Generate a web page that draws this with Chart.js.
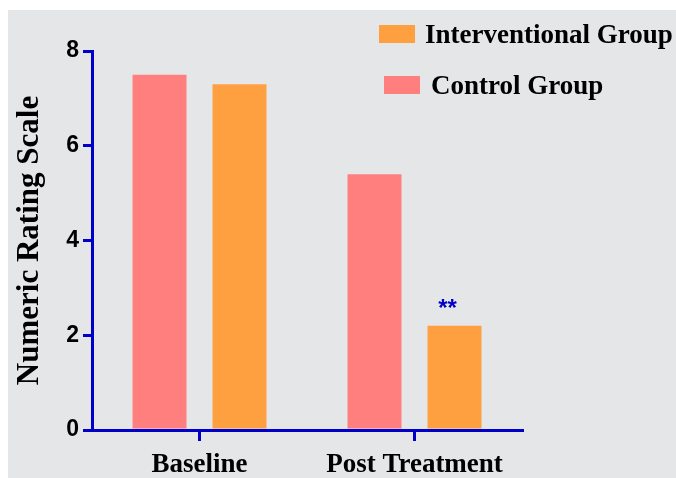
<!DOCTYPE html>
<html>
<head>
<meta charset="utf-8">
<script src="https://cdn.jsdelivr.net/npm/chart.js@4.4.1/dist/chart.umd.min.js"></script>
<style>
  html, body { margin: 0; padding: 0; background: #ffffff; overflow: hidden; }
  #c { display: block; }
</style>
</head>
<body>
<canvas id="c" width="676" height="478"></canvas>
<script>
// ---- data ----
const categories = ["Baseline", "Post Treatment"];
const seriesNames = ["Control Group", "Interventional Group"];
const controlValues = [7.5, 5.4];
const interventionalValues = [7.3, 2.2];
const yTicks = [0, 2, 4, 6, 8];
const significance = ["", "**"];   // marks above interventional bars

const PINK = "rgb(255,127,127)";
const ORANGE = "rgb(255,160,64)";
const BLUE = "#0000c8";
const GRAY = "rgb(229,230,232)";

const bgPlugin = {
  id: "bg",
  beforeDraw(chart) {
    const ctx = chart.ctx;
    ctx.save();
    ctx.fillStyle = "#ffffff";
    ctx.fillRect(0, 0, chart.width, chart.height);
    ctx.fillStyle = GRAY;
    ctx.fillRect(8, 10, chart.width - 8, chart.height - 10);
    ctx.restore();
  }
};

const annotPlugin = {
  id: "annot",
  afterDatasetsDraw(chart) {
    const ctx = chart.ctx;
    const meta = chart.getDatasetMeta(1);
    ctx.save();
    ctx.fillStyle = BLUE;
    ctx.font = "bold 24px 'Liberation Sans', Arial, sans-serif";
    ctx.textAlign = "center";
    ctx.textBaseline = "alphabetic";
    meta.data.forEach((bar, i) => {
      if (significance[i]) ctx.fillText(significance[i], bar.x - 7, bar.y - 10);
    });
    ctx.restore();
  }
};

const legendPlugin = {
  id: "customLegend",
  afterDraw(chart) {
    const ctx = chart.ctx;
    const items = [
      { ds: 1, sx: 379, sy: 25, tx: 425, ty: 43 },
      { ds: 0, sx: 384, sy: 76, tx: 431, ty: 94 }
    ];
    ctx.save();
    ctx.font = "bold 27px 'Liberation Serif', 'Times New Roman', serif";
    ctx.textAlign = "left";
    ctx.textBaseline = "alphabetic";
    items.forEach(it => {
      const ds = chart.data.datasets[it.ds];
      ctx.fillStyle = ds.backgroundColor;
      ctx.fillRect(it.sx, it.sy, 36, 18);
      ctx.fillStyle = "#000000";
      ctx.fillText(ds.label, it.tx, it.ty);
    });
    ctx.restore();
  }
};

new Chart(document.getElementById("c"), {
  type: "bar",
  data: {
    labels: categories,
    datasets: [
      { label: seriesNames[0], data: controlValues, backgroundColor: PINK },
      { label: seriesNames[1], data: interventionalValues, backgroundColor: ORANGE }
    ]
  },
  options: {
    responsive: false,
    animation: false,
    devicePixelRatio: 1,
    layout: { padding: { left: 0, right: 154, top: 51, bottom: 0 } },
    categoryPercentage: 0.744,
    barPercentage: 0.675,
    plugins: { legend: { display: false }, tooltip: { enabled: false } },
    scales: {
      x: {
        offset: true,
        grid: { offset: false, drawOnChartArea: false, drawTicks: true, tickLength: 11, color: BLUE, lineWidth: 3 },
        border: { color: BLUE, width: 3 },
        ticks: {
          color: "#000000",
          padding: 8,
          font: { family: "'Liberation Serif', 'Times New Roman', serif", size: 27, weight: "bold" }
        },
        afterFit(scale) { scale.height = 48; }
      },
      y: {
        min: 0,
        max: 8,
        afterBuildTicks(scale) { scale.ticks = yTicks.map(v => ({ value: v })); },
        grid: { drawOnChartArea: false, drawTicks: true, tickLength: 9, color: BLUE, lineWidth: 3 },
        border: { color: BLUE, width: 3 },
        ticks: {
          color: "#000000",
          padding: 4,
          font: { family: "'Liberation Sans', Arial, sans-serif", size: 23, weight: "bold" }
        },
        title: {
          display: true,
          text: "Numeric Rating Scale",
          color: "#000000",
          padding: { top: 11, bottom: 0 },
          font: { family: "'Liberation Serif', 'Times New Roman', serif", size: 31, weight: "bold" }
        },
        afterFit(scale) { scale.width = 92; }
      }
    }
  },
  plugins: [bgPlugin, annotPlugin, legendPlugin]
});
</script>
</body>
</html>
